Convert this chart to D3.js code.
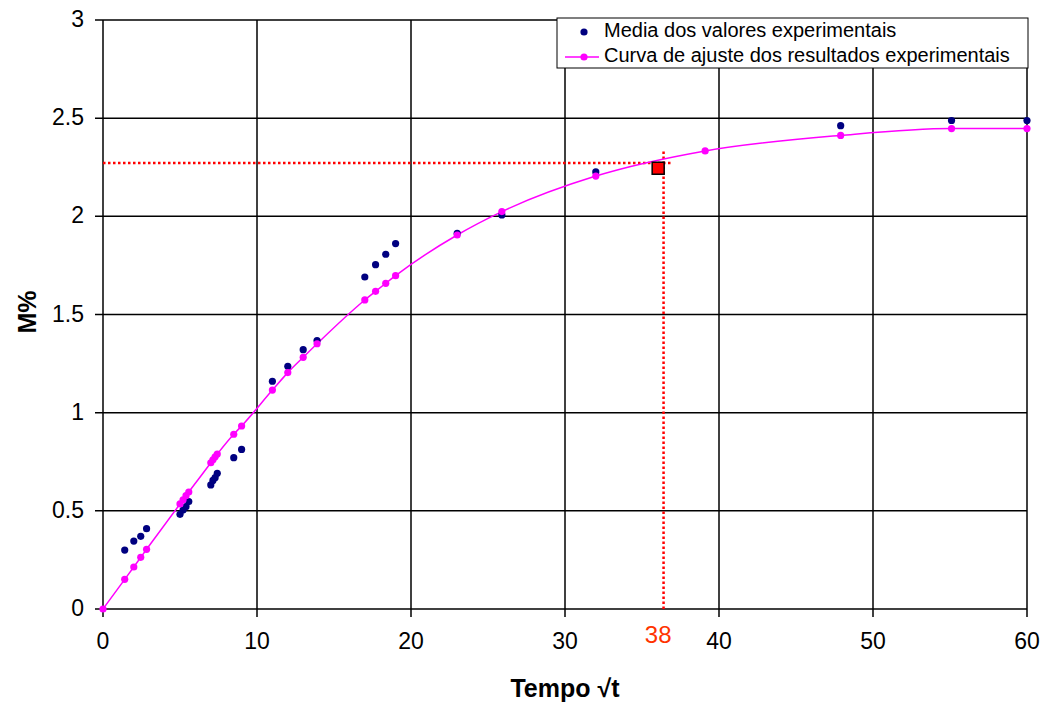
<!DOCTYPE html>
<html>
<head>
<meta charset="utf-8">
<script src="https://cdn.jsdelivr.net/npm/d3@7"></script>
<style>
  body { margin: 0; background: #fff; }
  text { font-family: Arial, "Liberation Sans", sans-serif; }
</style>
</head>
<body>
<svg id="chart" width="1043" height="705"></svg>
<script>
// dados
const fitX = [0, 1.41, 2, 2.45, 2.83, 5, 5.2, 5.39, 5.57, 7, 7.14, 7.28, 7.42, 8.49, 9,
  11, 12, 13, 13.9, 17, 17.7, 18.36, 19, 23, 25.9, 32, 39.1, 47.9, 55.1, 60];
const fitY = [0, 0.151, 0.214, 0.263, 0.304, 0.535, 0.556, 0.577, 0.596, 0.745, 0.76, 0.775, 0.789, 0.89, 0.932,
  1.115, 1.204, 1.282, 1.351, 1.574, 1.618, 1.659, 1.698, 1.905, 2.024, 2.205, 2.333, 2.412, 2.447, 2.447];

const expX = [1.41, 2, 2.45, 2.83, 5, 5.2, 5.39, 5.57, 7, 7.14, 7.28, 7.42, 8.49, 9,
  11, 12, 13, 13.9, 17, 17.7, 18.36, 19, 23, 25.9, 32, 47.9, 55.1, 60];
const expY = [0.30, 0.346, 0.37, 0.409, 0.482, 0.504, 0.521, 0.547, 0.632, 0.655, 0.669, 0.691, 0.771, 0.813,
  1.16, 1.236, 1.321, 1.367, 1.691, 1.754, 1.807, 1.861, 1.913, 2.007, 2.226, 2.462, 2.488, 2.488];

const xTicks = [0, 10, 20, 30, 40, 50, 60];
const yTicks = [0, 0.5, 1, 1.5, 2, 2.5, 3];

// ponto destacado e linhas guia
const markX = 36.05, markY = 2.245;
const guideX = 36.4, guideY = 2.272, guideTop = 2.33, guideEnd = 36.95;
const guideLabel = "38";

const legendNames = ["Media dos valores experimentais", "Curva de ajuste dos resultados experimentais"];

const svg = d3.select("#chart");
const margin = { top: 20, right: 16, bottom: 96, left: 103 };
const innerW = 1043 - margin.left - margin.right;
const innerH = 705 - margin.top - margin.bottom;

const g = svg.append("g").attr("transform", `translate(${margin.left},${margin.top})`);

const x = d3.scaleLinear().domain([0, 60]).range([0, innerW]);
const y = d3.scaleLinear().domain([0, 3]).range([innerH, 0]);

// grade
g.append("g").selectAll("line").data(xTicks).join("line")
  .attr("x1", d => x(d)).attr("x2", d => x(d))
  .attr("y1", 0).attr("y2", innerH + 8)
  .attr("stroke", "#000").attr("stroke-width", 1.5);
g.append("g").selectAll("line").data(yTicks).join("line")
  .attr("x1", -8).attr("x2", innerW)
  .attr("y1", d => y(d)).attr("y2", d => y(d))
  .attr("stroke", "#000").attr("stroke-width", 1.5);

// rotulos dos eixos
g.append("g").selectAll("text").data(xTicks).join("text")
  .attr("x", d => x(d)).attr("y", innerH + 34)
  .attr("text-anchor", "middle").attr("dominant-baseline", "middle")
  .attr("font-size", 23).text(d => d);
g.append("g").selectAll("text").data(yTicks).join("text")
  .attr("x", -19).attr("y", d => y(d) + 1)
  .attr("text-anchor", "end").attr("dominant-baseline", "middle")
  .attr("font-size", 23).text(d => d);

svg.append("text")
  .attr("x", 565).attr("y", 690)
  .attr("text-anchor", "middle").attr("dominant-baseline", "middle")
  .attr("font-size", 25).attr("font-weight", "bold")
  .text("Tempo \u221At");
svg.append("text")
  .attr("transform", "translate(29,312) rotate(-90)")
  .attr("text-anchor", "middle").attr("dominant-baseline", "middle")
  .attr("font-size", 25).attr("font-weight", "bold")
  .text("M%");

// linhas guia vermelhas
g.append("line")
  .attr("x1", 0).attr("x2", x(guideEnd))
  .attr("y1", y(guideY)).attr("y2", y(guideY))
  .attr("stroke", "#ff0000").attr("stroke-width", 2.5).attr("stroke-dasharray", "2.5,2.5");
g.append("line")
  .attr("x1", x(guideX)).attr("x2", x(guideX))
  .attr("y1", y(guideTop)).attr("y2", y(0))
  .attr("stroke", "#ff0000").attr("stroke-width", 2.5).attr("stroke-dasharray", "2.5,2.5");
g.append("text")
  .attr("x", x(markX)).attr("y", innerH + 28)
  .attr("text-anchor", "middle").attr("dominant-baseline", "middle")
  .attr("font-size", 24).attr("fill", "#ff3300")
  .text(guideLabel);

// curva de ajuste
const fit = fitX.map((d, i) => ({ x: d, y: fitY[i] }));
const exp = expX.map((d, i) => ({ x: d, y: expY[i] }));

g.append("path").datum(fit)
  .attr("fill", "none").attr("stroke", "#ff00ff").attr("stroke-width", 1.5)
  .attr("d", d3.line().x(d => x(d.x)).y(d => y(d.y)).curve(d3.curveMonotoneX));

g.append("g").selectAll("circle").data(exp).join("circle")
  .attr("cx", d => x(d.x)).attr("cy", d => y(d.y)).attr("r", 3.6)
  .attr("fill", "#000080");

g.append("g").selectAll("circle").data(fit).join("circle")
  .attr("cx", d => x(d.x)).attr("cy", d => y(d.y)).attr("r", 3.6)
  .attr("fill", "#ff00ff");

g.append("rect")
  .attr("x", x(markX) - 6).attr("y", y(markY) - 6)
  .attr("width", 12).attr("height", 12)
  .attr("fill", "#ff0000").attr("stroke", "#000").attr("stroke-width", 1.5);

// legenda
const lg = svg.append("g").attr("transform", "translate(557,18)");
lg.append("rect").attr("width", 471).attr("height", 50)
  .attr("fill", "#fff").attr("stroke", "#000").attr("stroke-width", 1);
lg.append("circle").attr("cx", 27).attr("cy", 14).attr("r", 3.6).attr("fill", "#000080");
lg.append("line").attr("x1", 8).attr("x2", 42).attr("y1", 39).attr("y2", 39)
  .attr("stroke", "#ff00ff").attr("stroke-width", 1.5);
lg.append("circle").attr("cx", 27).attr("cy", 39).attr("r", 3.6).attr("fill", "#ff00ff");
lg.selectAll("text.lbl").data(legendNames).join("text")
  .attr("class", "lbl")
  .attr("x", 47).attr("y", (d, i) => 14 + i * 25)
  .attr("dominant-baseline", "middle")
  .attr("font-size", 20).text(d => d);
</script>
</body>
</html>
